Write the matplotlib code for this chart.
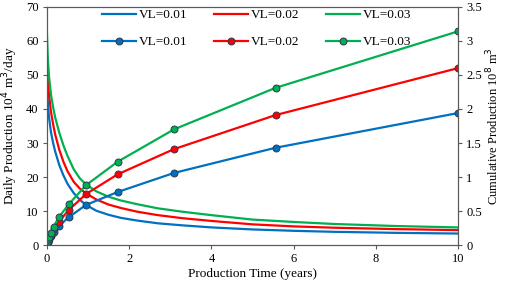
import matplotlib
matplotlib.use('Agg')
import matplotlib.pyplot as plt
from matplotlib.ticker import FuncFormatter

plt.rcParams['font.family'] = ['Liberation Serif', 'DejaVu Serif']

# daily production (10^4 m3/day)
t_rate = [0, 0.02, 0.05, 0.1, 0.15, 0.2, 0.3, 0.4, 0.5, 0.65, 0.8, 0.95, 1.2, 1.5,
          1.8, 2.2, 2.7, 3.3, 4, 5, 6, 7, 8.5, 10]
rate_01 = [48, 42, 37.5, 33, 30, 27.5, 23.5, 20.5, 18, 15.3, 13.3, 11.8, 10.1, 8.9,
           8.0, 7.2, 6.4, 5.8, 5.2, 4.6, 4.2, 3.9, 3.6, 3.4]
rate_02 = [56, 49, 44, 39, 35.5, 32.5, 28, 24.5, 21.7, 18.6, 16.6, 15.2, 13.4, 11.9,
           10.9, 9.8, 8.8, 7.9, 7.1, 6.1, 5.5, 5.1, 4.7, 4.4]
rate_03 = [62, 55, 49.5, 44, 40.5, 37.5, 33, 29.3, 26.2, 22.3, 19.6, 17.8, 15.8, 14.2,
           13.1, 12, 10.8, 9.8, 8.8, 7.5, 6.8, 6.2, 5.6, 5.2]

# cumulative production (10^8 m3)
t_cum = [0, 0.005, 0.009, 0.016, 0.028, 0.05, 0.09, 0.16, 0.29, 0.53, 0.95, 1.72, 3.09, 5.56, 10]
cum_01 = [0, 0.014, 0.025, 0.04, 0.06, 0.088, 0.13, 0.19, 0.28, 0.41, 0.59, 0.78, 1.06, 1.43, 1.94]
cum_02 = [0, 0.017, 0.03, 0.045, 0.07, 0.105, 0.155, 0.23, 0.345, 0.515, 0.75, 1.04, 1.41, 1.91, 2.60]
cum_03 = [0, 0.02, 0.035, 0.055, 0.085, 0.125, 0.185, 0.27, 0.41, 0.60, 0.88, 1.225, 1.70, 2.31, 3.14]

labels = ['VL=0.01', 'VL=0.02', 'VL=0.03']
colors = ['#0070C0', '#FF0000', '#00B050']

fig = plt.figure(figsize=(5.05, 2.86), dpi=100)
ax = fig.add_axes([0.093, 0.143, 0.814, 0.833])
ax2 = ax.twinx()

handles = []
for r, c, cu, lab in zip([rate_01, rate_02, rate_03], colors, [cum_01, cum_02, cum_03], labels):
    h1, = ax.plot(t_rate, r, color=c, lw=1.6, label=lab)
    h2, = ax2.plot(t_cum, cu, color=c, lw=1.6, marker='o', markersize=5,
                   markeredgecolor='#2b3a55', markeredgewidth=0.7, label=lab)
    handles += [h1, h2]

ax.set_xlim(0, 10)
ax.set_ylim(0, 70)
ax2.set_ylim(0, 3.5)
ax.set_xticks([0, 2, 4, 6, 8, 10])
ax.set_yticks(range(0, 71, 10))
ax2.set_yticks([0, 0.5, 1, 1.5, 2, 2.5, 3, 3.5])
ax2.yaxis.set_major_formatter(FuncFormatter(lambda v, p: '%g' % v))

for a in (ax, ax2):
    for s in a.spines.values():
        s.set_color('#595959')
    a.tick_params(colors='black', labelsize=9, length=3, color='#595959', pad=3)

ax.set_xlabel('Production Time (years)', fontsize=9.5, labelpad=2)
ax.set_ylabel('Daily Production 10$^4$ m$^3$/day', fontsize=9.5, labelpad=4)
ax2.set_ylabel('Cumulative Production 10$^8$ m$^3$', fontsize=9, labelpad=2)

ax2.legend(handles=handles, ncol=3, frameon=False, fontsize=9.5,
           loc='upper left', bbox_to_anchor=(0.105, 1.04),
           handlelength=2.6, handletextpad=0.2, columnspacing=2.0, labelspacing=1.1)

fig.savefig('out.png', dpi=100)
